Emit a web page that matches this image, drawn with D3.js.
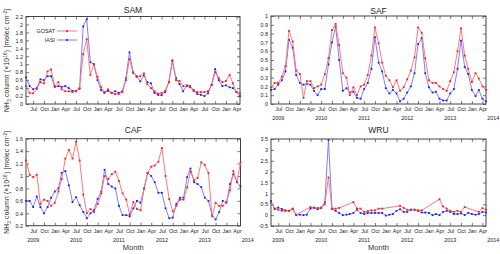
<!DOCTYPE html>
<html><head><meta charset="utf-8">
<script src="https://cdn.jsdelivr.net/npm/d3@7/dist/d3.min.js"></script>
<style>
body{margin:0;background:#fff}
svg{display:block;font-family:"Liberation Sans",Arial,sans-serif}
</style></head>
<body><svg id="c" width="500" height="254"></svg>
<script>
// ---------- data ----------
const firstMonth = new Date(2009, 4, 1);   // May 2009
const lastMonth  = new Date(2014, 4, 1);   // May 2014
const seriesNames = ["GOSAT", "IASI"];
const regionNames = ["SAM", "SAF", "CAF", "WRU"];

const samGosat = [0.45,0.28,0.27,0.38,0.55,0.52,0.82,0.87,0.45,0.55,0.37,0.32,0.32,0.3,0.33,0.38,1.25,1.63,0.73,1.0,0.68,0.42,0.3,0.37,0.28,0.25,0.25,0.3,0.6,1.13,0.78,0.68,0.7,0.77,0.5,0.4,0.32,0.26,0.28,0.33,0.55,1.08,0.6,0.58,0.45,0.45,0.42,0.32,0.3,0.3,0.3,0.32,0.48,0.8,0.65,0.55,0.58,0.73,0.52,0.3,0.27];
const samIasi  = [0.67,0.45,0.37,0.4,0.62,0.6,0.7,0.7,0.43,0.45,0.43,0.45,0.4,0.33,0.32,0.4,1.95,2.13,1.05,1.0,0.6,0.35,0.28,0.33,0.28,0.32,0.28,0.32,0.65,1.3,0.8,0.7,0.57,0.72,0.55,0.52,0.28,0.23,0.22,0.3,0.55,1.1,0.65,0.5,0.32,0.47,0.45,0.35,0.25,0.23,0.2,0.27,0.48,0.88,0.6,0.45,0.47,0.42,0.4,0.3,0.2];

const safGosat = [0.19,0.24,0.24,0.31,0.43,0.83,0.71,0.38,0.34,0.07,0.26,0.26,0.18,0.2,0.22,0.34,0.52,0.84,0.91,0.67,0.35,0.3,0.1,0.19,0.1,0.2,0.22,0.33,0.55,0.87,0.69,0.47,0.32,0.27,0.19,0.27,0.15,0.19,0.28,0.38,0.53,0.87,0.81,0.52,0.27,0.24,0.24,0.2,0.17,0.15,0.26,0.36,0.6,0.86,0.55,0.4,0.25,0.35,0.29,0.2,0.16];
const safIasi  = [0.16,0.17,0.22,0.27,0.37,0.73,0.64,0.33,0.24,0.22,0.23,0.22,0.15,0.1,0.17,0.17,0.45,0.7,0.88,0.5,0.15,0.18,0.13,0.14,0.07,0.06,0.17,0.24,0.4,0.76,0.47,0.37,0.18,0.12,0.16,0.12,0.03,0.06,0.13,0.2,0.35,0.68,0.75,0.35,0.19,0.13,0.14,0.06,0.04,0.04,0.12,0.17,0.4,0.72,0.42,0.34,0.16,0.09,0.16,0.06,0.03];

const cafGosat = [1.25,1.02,0.98,1.02,0.55,0.62,0.6,0.52,0.57,0.75,0.95,1.28,1.42,1.28,1.55,1.25,0.7,0.4,0.47,0.42,0.55,0.72,1.0,0.95,1.03,1.07,0.92,0.72,0.62,0.38,0.58,0.47,0.45,0.8,1.05,1.15,1.17,1.23,1.45,1.0,0.63,0.43,0.52,0.62,0.62,0.82,1.07,0.93,0.97,1.22,1.18,1.05,0.35,0.57,0.52,0.52,0.58,0.77,1.08,0.9,1.22];
const cafIasi  = [0.6,0.6,0.5,0.67,0.5,0.4,0.5,0.65,0.75,0.8,1.05,1.08,0.85,0.58,0.66,0.53,0.42,0.32,0.4,0.45,0.63,0.75,1.1,0.87,0.83,0.8,0.52,0.37,0.37,0.35,0.48,0.6,0.57,0.8,1.05,1.0,0.9,0.73,0.73,0.48,0.32,0.33,0.55,0.65,0.65,0.98,1.12,0.9,0.87,0.82,0.65,0.6,0.37,0.3,0.42,0.6,0.57,0.87,1.03,0.9,0.83];

const wruGosat = [0.58,0.3,0.25,0.2,0.2,0.2,0.28,0.02,null,null,null,0.37,0.33,0.33,0.35,0.5,1.73,0.3,0.3,0.33,null,null,null,0.6,0.3,0.3,0.15,0.18,0.22,0.22,0.3,0.3,null,null,null,null,0.43,0.33,0.25,0.25,0.25,0.22,0.22,null,null,null,null,0.73,0.4,0.3,0.2,0.15,0.2,0.15,0.37,null,null,null,0.15,0.32,0.25];
const wruIasi  = [0.65,0.28,0.35,0.28,0.22,0.2,0.3,0.0,0.02,0.0,0.02,0.3,0.35,0.27,0.33,0.6,3.45,0.28,0.2,0.1,0.0,0.02,0.05,0.1,0.25,0.1,0.05,0.1,0.1,0.1,0.1,0.1,-0.02,0.02,0.05,0.2,0.27,0.15,0.15,0.25,0.25,0.2,0.12,0.12,0.1,0.0,0.05,0.0,0.15,0.2,0.15,0.05,0.05,0.08,0.0,0.1,0.05,0.02,0.05,0.15,0.12];

const samYTicks = [0,0.2,0.4,0.6,0.8,1,1.2,1.4,1.6,1.8,2,2.2];
const safYTicks = [0,0.1,0.2,0.3,0.4,0.5,0.6,0.7,0.8,0.9,1];
const cafYTicks = [0.2,0.4,0.6,0.8,1,1.2,1.4,1.6];
const wruYTicks = [-0.5,0,0.5,1,1.5,2,2.5,3,3.5];
const yearLabels = [2009,2010,2011,2012,2013,2014];
const xAxisTitle = "Month";

// ---------- layout ----------
const months = d3.timeMonth.range(firstMonth, d3.timeMonth.offset(lastMonth, 1));
const svg = d3.select("#c");
const RED_LINE = "#ff6a6a", RED_PT = "#ff1a1a", BLUE_LINE = "#7070ff", BLUE_PT = "#1a1aff";
const TICK_FS = 5.4;

const panels = [
  {title: regionNames[0], g: samGosat, i: samIasi, ticks: samYTicks, L: 26, R: 240, T: 16.5, B: 104, years: false, xTitle: false, yLabel: true, legend: true, titleY: 10},
  {title: regionNames[1], g: safGosat, i: safIasi, ticks: safYTicks, L: 271, R: 486, T: 16, B: 104, years: true, xTitle: false, yLabel: false, legend: false, titleY: 11},
  {title: regionNames[2], g: cafGosat, i: cafIasi, ticks: cafYTicks, L: 26, R: 240.5, T: 138.7, B: 225.7, years: true, xTitle: true, yLabel: true, legend: false, titleY: 130},
  {title: regionNames[3], g: wruGosat, i: wruIasi, ticks: wruYTicks, L: 271, R: 486, T: 139, B: 226, years: true, xTitle: true, yLabel: false, legend: false, titleY: 130}
];

const fmt = d => String(+d.toFixed(2));

panels.forEach(p => {
  const x = d3.scaleTime().domain([firstMonth, lastMonth]).range([p.L, p.R]);
  const y = d3.scaleLinear().domain([p.ticks[0], p.ticks[p.ticks.length - 1]]).range([p.B, p.T]);
  const g = svg.append("g");

  const quarterTicks = d3.timeMonth.range(firstMonth, d3.timeMonth.offset(lastMonth, 1)).filter(d => d.getMonth() % 3 === 0);

  const xb = g.append("g").attr("transform", `translate(0,${p.B})`)
    .call(d3.axisBottom(x).tickValues(quarterTicks).tickFormat(d3.timeFormat("%b")).tickSizeInner(-3).tickSizeOuter(0).tickPadding(3.5));
  const xt = g.append("g").attr("transform", `translate(0,${p.T})`)
    .call(d3.axisTop(x).tickValues(quarterTicks).tickFormat("").tickSizeInner(-3).tickSizeOuter(0));
  const yl = g.append("g").attr("transform", `translate(${p.L},0)`)
    .call(d3.axisLeft(y).tickValues(p.ticks).tickFormat(fmt).tickSizeInner(-3).tickSizeOuter(0).tickPadding(3));
  const yr = g.append("g").attr("transform", `translate(${p.R},0)`)
    .call(d3.axisRight(y).tickValues(p.ticks).tickFormat("").tickSizeInner(-3).tickSizeOuter(0));
  [xb, xt, yl, yr].forEach(a => {
    a.select(".domain").remove();
    a.selectAll("line").attr("stroke", "#555").attr("stroke-width", 0.8);
    a.selectAll("text").attr("font-size", TICK_FS).attr("fill", "#222").attr("font-family", "Liberation Sans, Arial, sans-serif");
  });

  g.append("rect").attr("x", p.L).attr("y", p.T).attr("width", p.R - p.L).attr("height", p.B - p.T)
    .attr("fill", "none").attr("stroke", "#444").attr("stroke-width", 1);

  if (p.years) {
    g.selectAll(".yr").data(yearLabels).enter().append("text")
      .attr("x", yv => x(new Date(yv, 6, 1)))
      .attr("y", p.B + (p.B > 150 ? 16 : 15.5))
      .attr("text-anchor", "middle").attr("font-size", TICK_FS).attr("fill", "#222")
      .text(yv => yv);
  }
  if (p.xTitle) {
    g.append("text").attr("x", (p.L + p.R) / 2).attr("y", 249.5).attr("text-anchor", "middle")
      .attr("font-size", 7.5).attr("fill", "#333").text(xAxisTitle);
  }
  if (p.yLabel) {
    const t = g.append("text").attr("transform", `translate(9,${(p.T + p.B) / 2}) rotate(-90)`)
      .attr("text-anchor", "middle").attr("font-size", 6.6).attr("fill", "#222").attr("letter-spacing", 0.25);
    t.append("tspan").text("NH");
    t.append("tspan").attr("font-size", 4.6).attr("dy", 1.5).text("3");
    t.append("tspan").attr("dy", -1.5).text(" column (\u00d710");
    t.append("tspan").attr("font-size", 4.6).attr("dy", -2.5).text("16");
    t.append("tspan").attr("dy", 2.5).text(") [molec cm");
    t.append("tspan").attr("font-size", 4.6).attr("dy", -2.5).text("-2");
    t.append("tspan").attr("dy", 2.5).text("]");
  }
  g.append("text").attr("x", (p.L + p.R) / 2).attr("y", p.titleY).attr("dy", "0.35em")
    .attr("text-anchor", "middle").attr("font-size", 8.5).attr("fill", "#222").text(p.title);

  const line = d3.line().x(d => x(d.date)).y(d => y(d.v));
  const mk = arr => arr.map((v, k) => ({date: months[k], v})).filter(d => d.v !== null);
  const sets = [{data: mk(p.i), lc: BLUE_LINE, pc: BLUE_PT}, {data: mk(p.g), lc: RED_LINE, pc: RED_PT}];
  sets.forEach(s => {
    g.append("path").datum(s.data).attr("d", line).attr("fill", "none").attr("stroke", s.lc).attr("stroke-width", 0.9);
    g.selectAll(null).data(s.data).enter().append("rect")
      .attr("x", d => x(d.date) - 0.9).attr("y", d => y(d.v) - 0.9).attr("width", 1.8).attr("height", 1.8).attr("fill", s.pc);
  });

  if (p.legend) {
    const items = [{name: seriesNames[0], lc: RED_LINE, pc: RED_PT, y: 31}, {name: seriesNames[1], lc: BLUE_LINE, pc: BLUE_PT, y: 40}];
    items.forEach(it => {
      g.append("text").attr("x", 55).attr("y", it.y).attr("dy", "0.35em").attr("text-anchor", "end")
        .attr("font-size", TICK_FS).attr("fill", "#222").text(it.name);
      g.append("line").attr("x1", 57).attr("x2", 77).attr("y1", it.y).attr("y2", it.y).attr("stroke", it.lc).attr("stroke-width", 0.9);
      g.append("rect").attr("x", 66.1).attr("y", it.y - 0.9).attr("width", 1.8).attr("height", 1.8).attr("fill", it.pc);
    });
  }
});
</script>
</body></html>
